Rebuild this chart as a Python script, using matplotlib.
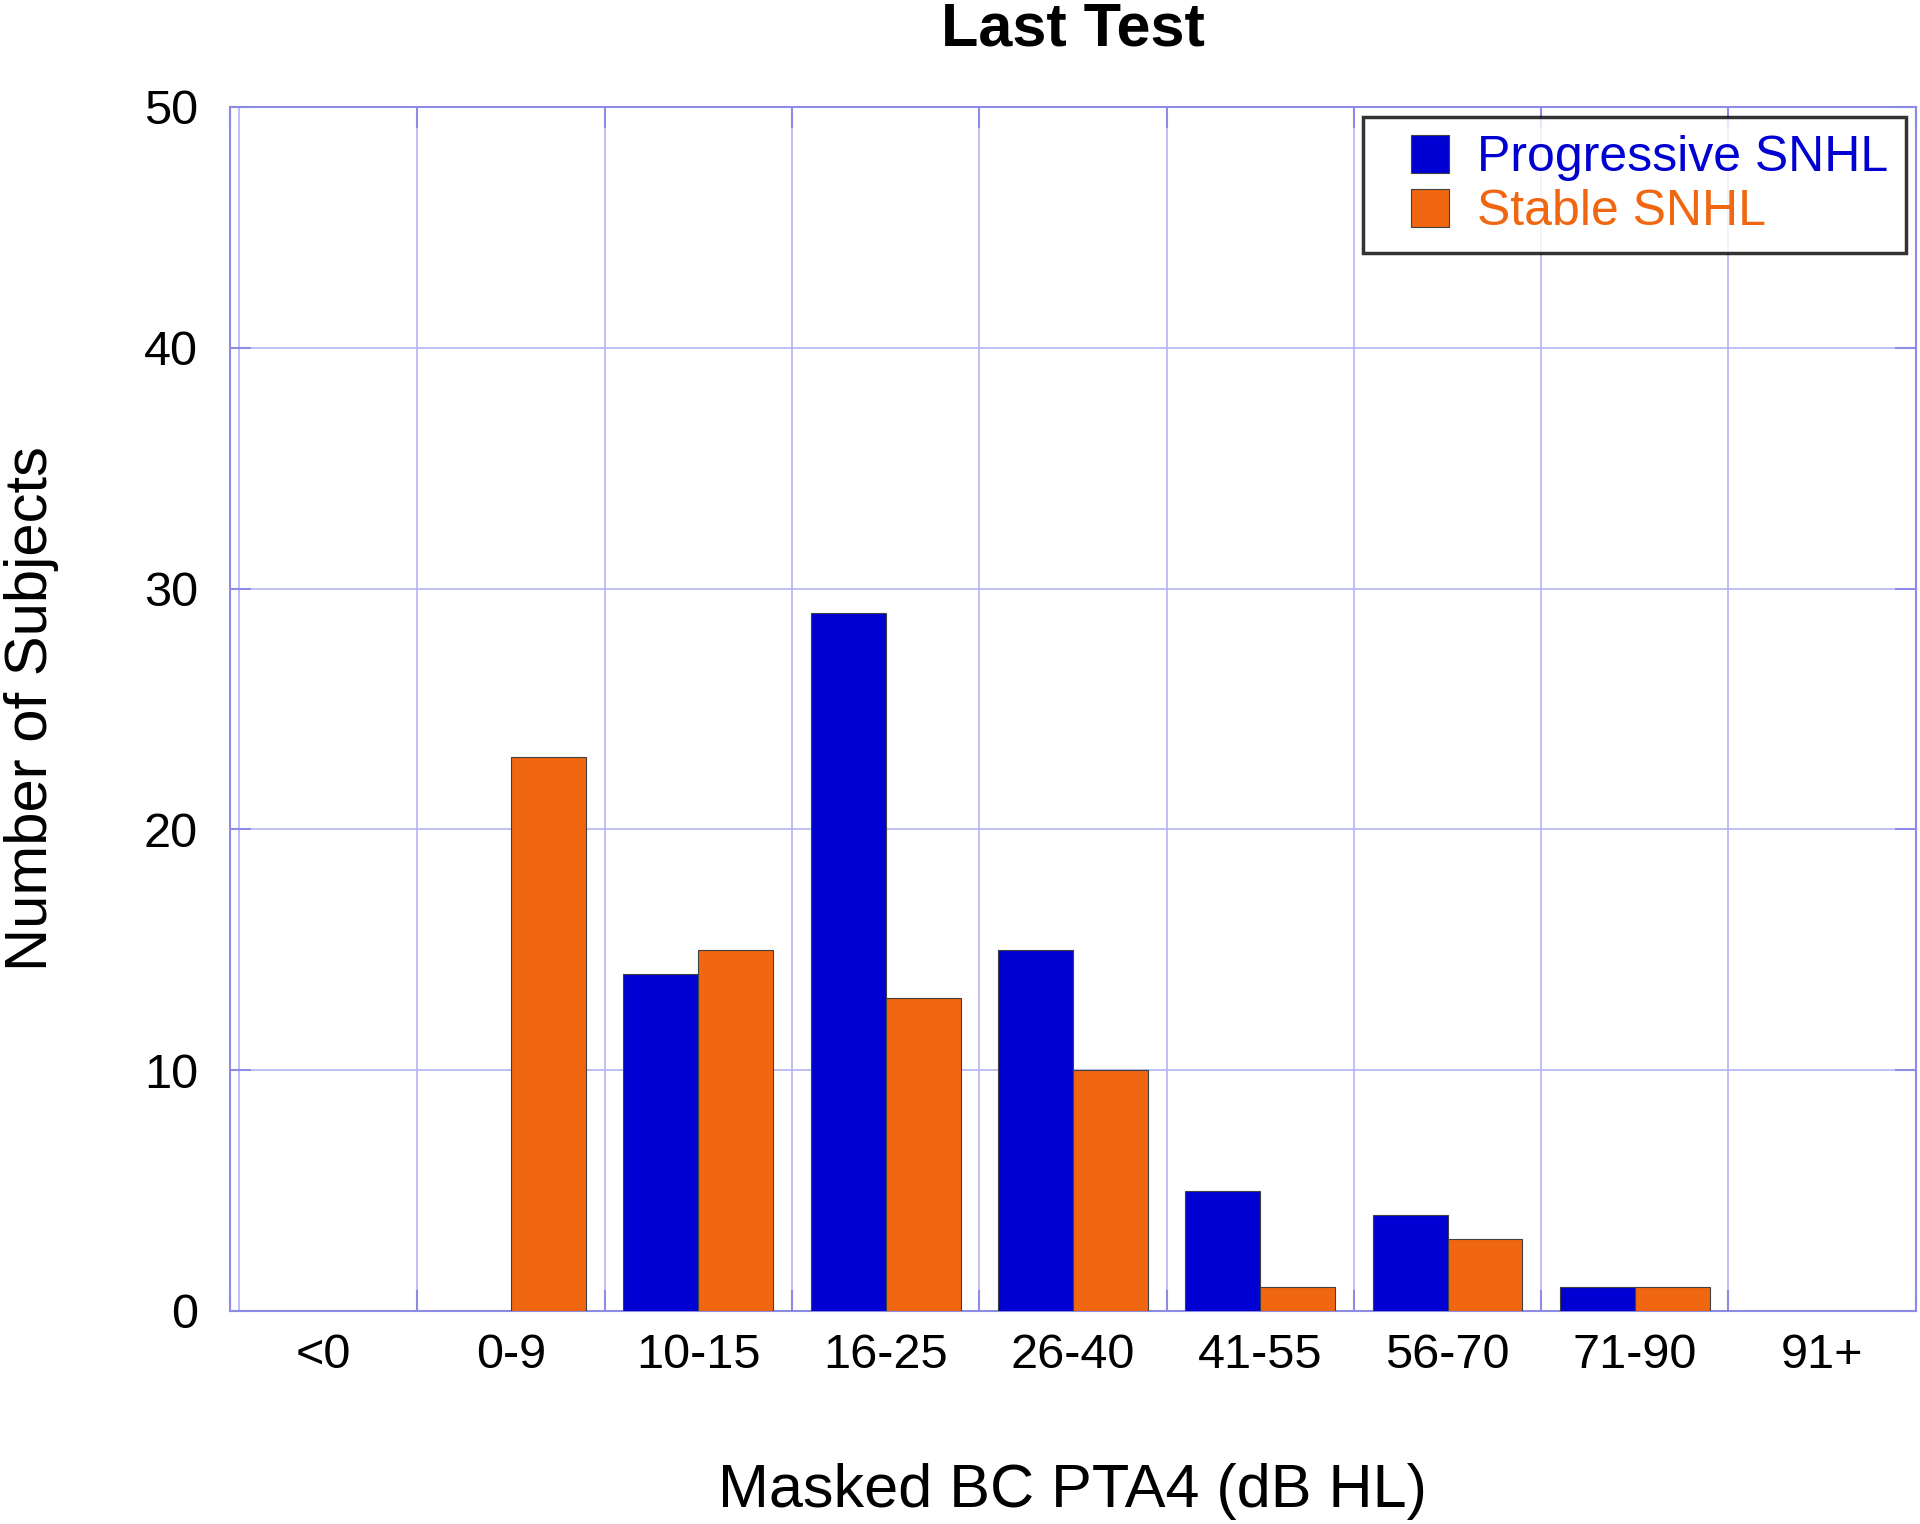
import numpy as np
import matplotlib.pyplot as plt
from matplotlib.patches import Rectangle
from matplotlib.legend_handler import HandlerPatch

plt.rcParams['font.family'] = ['Liberation Sans', 'DejaVu Sans']

categories = ["<0", "0-9", "10-15", "16-25", "26-40", "41-55", "56-70", "71-90", "91+"]
progressive = [0, 0, 14, 29, 15, 5, 4, 1, 0]
stable = [0, 23, 15, 13, 10, 1, 3, 1, 0]

blue = "#0000d2"
orange = "#f06611"
grid_col = "#b4b4f0"
spine_col = "#8c8ce6"


class RightSquare(HandlerPatch):
    # square swatch pushed to the right end of the handle box
    def create_artists(self, legend, orig_handle, xdescent, ydescent,
                       width, height, fontsize, trans):
        p = Rectangle((-xdescent + width - height, -ydescent), height, height)
        self.update_prop(p, orig_handle, legend)
        p.set_transform(trans)
        return [p]


fig = plt.figure(figsize=(19.2, 15.24), dpi=100)
ax = fig.add_axes([0.1198, 0.1398, 0.878, 0.79])

x = np.arange(len(categories))
w = 0.4
b1 = ax.bar(x - w / 2, progressive, w, color=blue, edgecolor="#404040", linewidth=0.8,
            label="Progressive SNHL", zorder=3)
b2 = ax.bar(x + w / 2, stable, w, color=orange, edgecolor="#404040", linewidth=0.8,
            label="Stable SNHL", zorder=3)

ax.set_xlim(-0.5, len(categories) - 0.5)
ax.set_ylim(0, 50)
ax.set_yticks(range(0, 51, 10))
ax.set_xticks(x)
ax.set_xticklabels(categories)
ax.set_xticks(np.arange(-0.5, len(categories)), minor=True)
ax.grid(False)
ax.grid(True, which="minor", axis="x", color=grid_col, linewidth=1.2, zorder=0)
ax.grid(True, which="major", axis="y", color=grid_col, linewidth=1.2, zorder=0)
ax.axvline(-0.45, color=grid_col, linewidth=1.2, zorder=0)

for s in ax.spines.values():
    s.set_color(spine_col)
    s.set_linewidth(1.5)

ax.tick_params(axis="x", which="major", length=0, labelsize=35, pad=16)
ax.tick_params(axis="x", which="minor", direction="in", length=15, color=spine_col,
               top=True, bottom=True, width=1.5)
ax.tick_params(axis="y", direction="in", length=15, color=spine_col, width=1.5,
               labelsize=35, pad=23, right=True)

ax.set_xlabel("Masked BC PTA4 (dB HL)", fontsize=44, labelpad=61)
ax.set_ylabel("Number of Subjects", fontsize=43, labelpad=61)
ax.set_title("Last Test", fontsize=44, fontweight="bold", pad=44)

leg = ax.legend([b1.patches[0], b2.patches[0]], ["Progressive SNHL", "Stable SNHL"],
                loc="upper right", fontsize=36, frameon=True, fancybox=False,
                edgecolor="black", borderpad=0.36, handlelength=1.36, handleheight=0.8,
                handletextpad=0.55, labelspacing=0.15, borderaxespad=0.2,
                bbox_to_anchor=(1.0, 1.0),
                handler_map={Rectangle: RightSquare()})
leg.get_frame().set_linewidth(2.5)
leg.get_texts()[0].set_color(blue)
leg.get_texts()[1].set_color(orange)

fig.savefig("out.png", dpi=100)
